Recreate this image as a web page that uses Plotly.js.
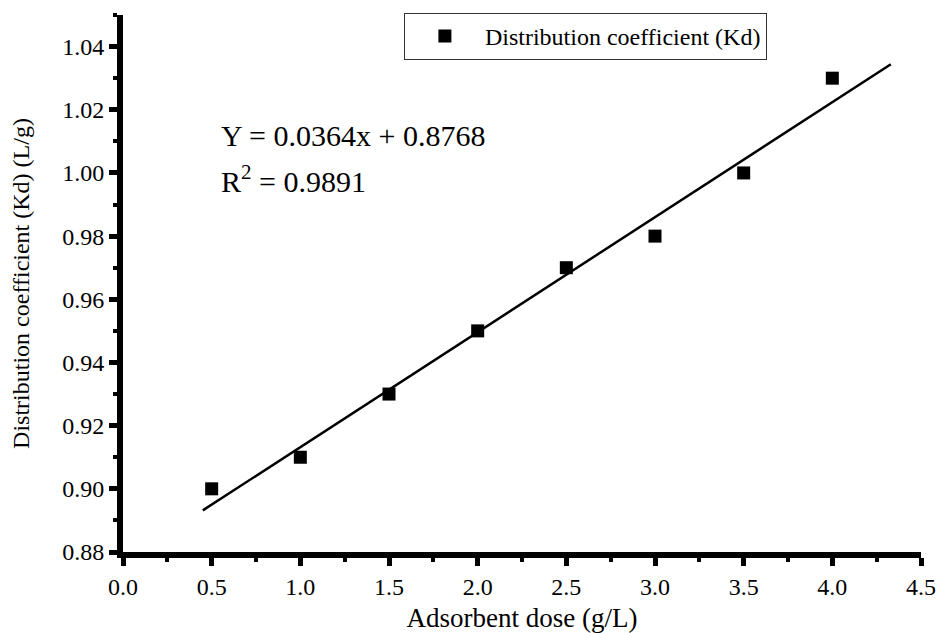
<!DOCTYPE html>
<html>
<head>
<meta charset="utf-8">
<script src="https://cdn.plot.ly/plotly-3.0.1.min.js"></script>
<style>html,body{margin:0;padding:0;background:#fff;}#chart{width:938px;height:633px;}</style>
</head>
<body>
<div id="chart"></div>
<script>
// Data
const doseX = [0.5, 1.0, 1.5, 2.0, 2.5, 3.0, 3.5, 4.0];
const kdY = [0.90, 0.91, 0.93, 0.95, 0.97, 0.98, 1.00, 1.03];
const seriesName = 'Distribution coefficient (Kd)';
// Linear fit shown on the chart
const fitSlope = 0.0364;
const fitIntercept = 0.8768;
const fitR2 = 0.9891;
const fitRangeX = [0.45, 4.33];
const xTickVals = [0.0, 0.5, 1.0, 1.5, 2.0, 2.5, 3.0, 3.5, 4.0, 4.5];
const yTickVals = [0.88, 0.90, 0.92, 0.94, 0.96, 0.98, 1.00, 1.02, 1.04];

const fitY = fitRangeX.map(x => fitSlope * x + fitIntercept);
const FONT = 'Liberation Serif, Times New Roman, serif';

const traces = [
  {
    x: fitRangeX, y: fitY, type: 'scatter', mode: 'lines',
    line: {color: '#000', width: 2.5}, showlegend: false, hoverinfo: 'skip'
  },
  {
    x: doseX, y: kdY, type: 'scatter', mode: 'markers', name: seriesName,
    marker: {symbol: 'square', size: 13, color: '#000'}
  }
];

const axisCommon = {
  showgrid: false, zeroline: false, showline: true, linecolor: '#000', linewidth: 6,
  ticks: 'outside', ticklen: 8, tickwidth: 5, tickcolor: '#000',
  tickfont: {family: FONT, size: 24, color: '#000'},
  mirror: false
};

const layout = {
  width: 938, height: 633,
  margin: {l: 123, r: 17, t: 15, b: 81},
  paper_bgcolor: '#fff', plot_bgcolor: '#fff',
  font: {family: FONT, color: '#000'},
  xaxis: Object.assign({}, axisCommon, {
    range: [0, 4.5], tickmode: 'array', tickvals: xTickVals,
    ticktext: xTickVals.map(v => v.toFixed(1)),
    minor: {dtick: 0.25, ticks: 'outside', ticklen: 4, tickwidth: 4, tickcolor: '#000'},
    title: {text: 'Adsorbent dose (g/L)', font: {family: FONT, size: 27, color: '#000'}, standoff: 12}
  }),
  yaxis: Object.assign({}, axisCommon, {
    range: [0.88, 1.05], tickmode: 'array', tickvals: yTickVals,
    ticktext: yTickVals.map(v => v.toFixed(2)),
    minor: {dtick: 0.01, ticks: 'outside', ticklen: 4, tickwidth: 4, tickcolor: '#000'},
    title: {text: 'Distribution coefficient (Kd) (L/g)', font: {family: FONT, size: 24, color: '#000'}, standoff: 28}
  }),
  legend: {
    x: 0.352, y: 1.004, xanchor: 'left', yanchor: 'top',
    bordercolor: '#333', borderwidth: 1, bgcolor: '#fff',
    itemwidth: 70, font: {family: FONT, size: 24, color: '#000'}
  },
  annotations: [
    {xref: 'paper', yref: 'paper', x: 0.12, y: 0.775, xanchor: 'left', yanchor: 'middle',
     showarrow: false, text: 'Y = ' + fitSlope.toFixed(4) + 'x + ' + fitIntercept.toFixed(4),
     font: {family: FONT, size: 30, color: '#000'}},
    {xref: 'paper', yref: 'paper', x: 0.12, y: 0.695, xanchor: 'left', yanchor: 'middle',
     showarrow: false, text: 'R<sup>2</sup> = ' + fitR2.toFixed(4),
     font: {family: FONT, size: 30, color: '#000'}}
  ]
};

Plotly.newPlot('chart', traces, layout, {displayModeBar: false, staticPlot: true});
</script>
</body>
</html>
